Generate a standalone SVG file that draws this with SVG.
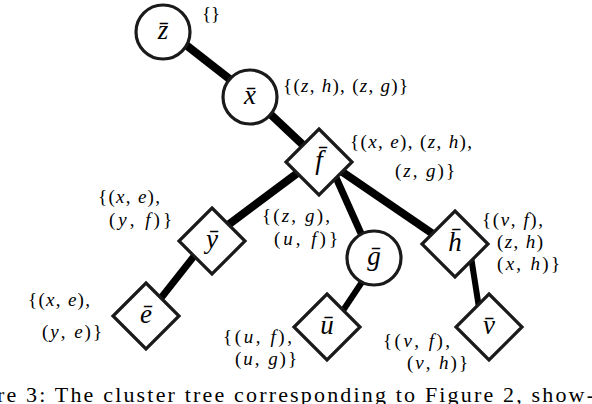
<svg xmlns="http://www.w3.org/2000/svg" width="592" height="404" viewBox="0 0 592 404">
<style>
.e{stroke:#000;stroke-linecap:butt;fill:none}
.n{fill:#fff;stroke:#1a1a1a;stroke-width:3.2}
.nl{font-style:italic;font-size:27px;text-anchor:middle;fill:#000}
.m{font-size:19px;fill:#000}
.i{font-style:italic}
.cap{font-size:22px;fill:#000}
</style>
<rect width="592" height="404" fill="#fff"/>
<g id="connectors">
<line class="e" x1="163" y1="27" x2="250" y2="95" stroke-width="8"/>
<line class="e" x1="250" y1="95" x2="319" y2="160" stroke-width="8"/>
<line class="e" x1="319" y1="157" x2="212" y2="237" stroke-width="8"/>
<line class="e" x1="206" y1="241" x2="146" y2="317" stroke-width="7"/>
<line class="e" x1="329" y1="162" x2="372" y2="258" stroke-width="7"/>
<line class="e" x1="319" y1="156" x2="455" y2="249" stroke-width="8"/>
<line class="e" x1="469" y1="244" x2="482" y2="327" stroke-width="6"/>
<line class="e" x1="378" y1="258" x2="332" y2="327" stroke-width="6"/>
</g>
<g font-family="Liberation Serif, Times New Roman, serif">
<g id="node-z">
<circle class="n" cx="163" cy="32" r="27"/>
<text class="nl" x="163" y="39">z̄</text>
<text class="m" x="202" y="20" textLength="18" lengthAdjust="spacing">{}</text>
</g>
<g id="node-x">
<circle class="n" cx="250" cy="97" r="27"/>
<text class="nl" x="250" y="104">x̄</text>
<text class="m" x="283" y="92" textLength="125" lengthAdjust="spacing">{(<tspan class="i">z</tspan>, <tspan class="i">h</tspan>), (<tspan class="i">z</tspan>, <tspan class="i">g</tspan>)}</text>
</g>
<g id="node-f">
<path class="n" d="M319 129 L352 162 L319 195 L286 162 Z"/>
<text class="nl" x="319" y="169">f̄</text>
<text class="m" x="350" y="148" textLength="122" lengthAdjust="spacing">{(<tspan class="i">x</tspan>, <tspan class="i">e</tspan>), (<tspan class="i">z</tspan>, <tspan class="i">h</tspan>),</text>
<text class="m" x="395" y="177" textLength="60" lengthAdjust="spacing">(<tspan class="i">z</tspan>, <tspan class="i">g</tspan>)}</text>
</g>
<g id="node-y">
<path class="n" d="M212 208 L245 241 L212 274 L179 241 Z"/>
<text class="nl" x="212" y="248">ȳ</text>
<text class="m" x="98" y="203" textLength="62" lengthAdjust="spacing">{(<tspan class="i">x</tspan>, <tspan class="i">e</tspan>),</text>
<text class="m" x="109" y="226" textLength="63" lengthAdjust="spacing">(<tspan class="i">y</tspan>, <tspan class="i">f</tspan>)}</text>
</g>
<g id="node-g">
<circle class="n" cx="374" cy="258" r="27"/>
<text class="nl" x="374" y="265">ḡ</text>
<text class="m" x="262" y="222" textLength="68" lengthAdjust="spacing">{(<tspan class="i">z</tspan>, <tspan class="i">g</tspan>),</text>
<text class="m" x="274" y="245" textLength="64" lengthAdjust="spacing">(<tspan class="i">u</tspan>, <tspan class="i">f</tspan>)}</text>
</g>
<g id="node-h">
<path class="n" d="M455 211 L488 244 L455 277 L422 244 Z"/>
<text class="nl" x="455" y="251">h̄</text>
<text class="m" x="482" y="226" textLength="61" lengthAdjust="spacing">{(<tspan class="i">v</tspan>, <tspan class="i">f</tspan>),</text>
<text class="m" x="497" y="248" textLength="46" lengthAdjust="spacing">(<tspan class="i">z</tspan>, <tspan class="i">h</tspan>)</text>
<text class="m" x="497" y="270" textLength="63" lengthAdjust="spacing">(<tspan class="i">x</tspan>, <tspan class="i">h</tspan>)}</text>
</g>
<g id="node-e">
<path class="n" d="M146 283 L179 316 L146 349 L113 316 Z"/>
<text class="nl" x="146" y="323">ē</text>
<text class="m" x="28" y="306" textLength="62" lengthAdjust="spacing">{(<tspan class="i">x</tspan>, <tspan class="i">e</tspan>),</text>
<text class="m" x="42" y="338" textLength="60" lengthAdjust="spacing">(<tspan class="i">y</tspan>, <tspan class="i">e</tspan>)}</text>
</g>
<g id="node-u">
<path class="n" d="M327 294 L360 327 L327 360 L294 327 Z"/>
<text class="nl" x="327" y="334">ū</text>
<text class="m" x="223" y="343" textLength="69" lengthAdjust="spacing">{(<tspan class="i">u</tspan>, <tspan class="i">f</tspan>),</text>
<text class="m" x="235" y="365" textLength="62" lengthAdjust="spacing">(<tspan class="i">u</tspan>, <tspan class="i">g</tspan>)}</text>
</g>
<g id="node-v">
<path class="n" d="M489 294 L522 327 L489 360 L456 327 Z"/>
<text class="nl" x="489" y="334">v̄</text>
<text class="m" x="383" y="347" textLength="67" lengthAdjust="spacing">{(<tspan class="i">v</tspan>, <tspan class="i">f</tspan>),</text>
<text class="m" x="407" y="369" textLength="61" lengthAdjust="spacing">(<tspan class="i">v</tspan>, <tspan class="i">h</tspan>)}</text>
</g>
<text class="cap" x="-3" y="402" textLength="597" lengthAdjust="spacing">re 3: The cluster tree corresponding to Figure 2, show-</text>
</g>
</svg>
